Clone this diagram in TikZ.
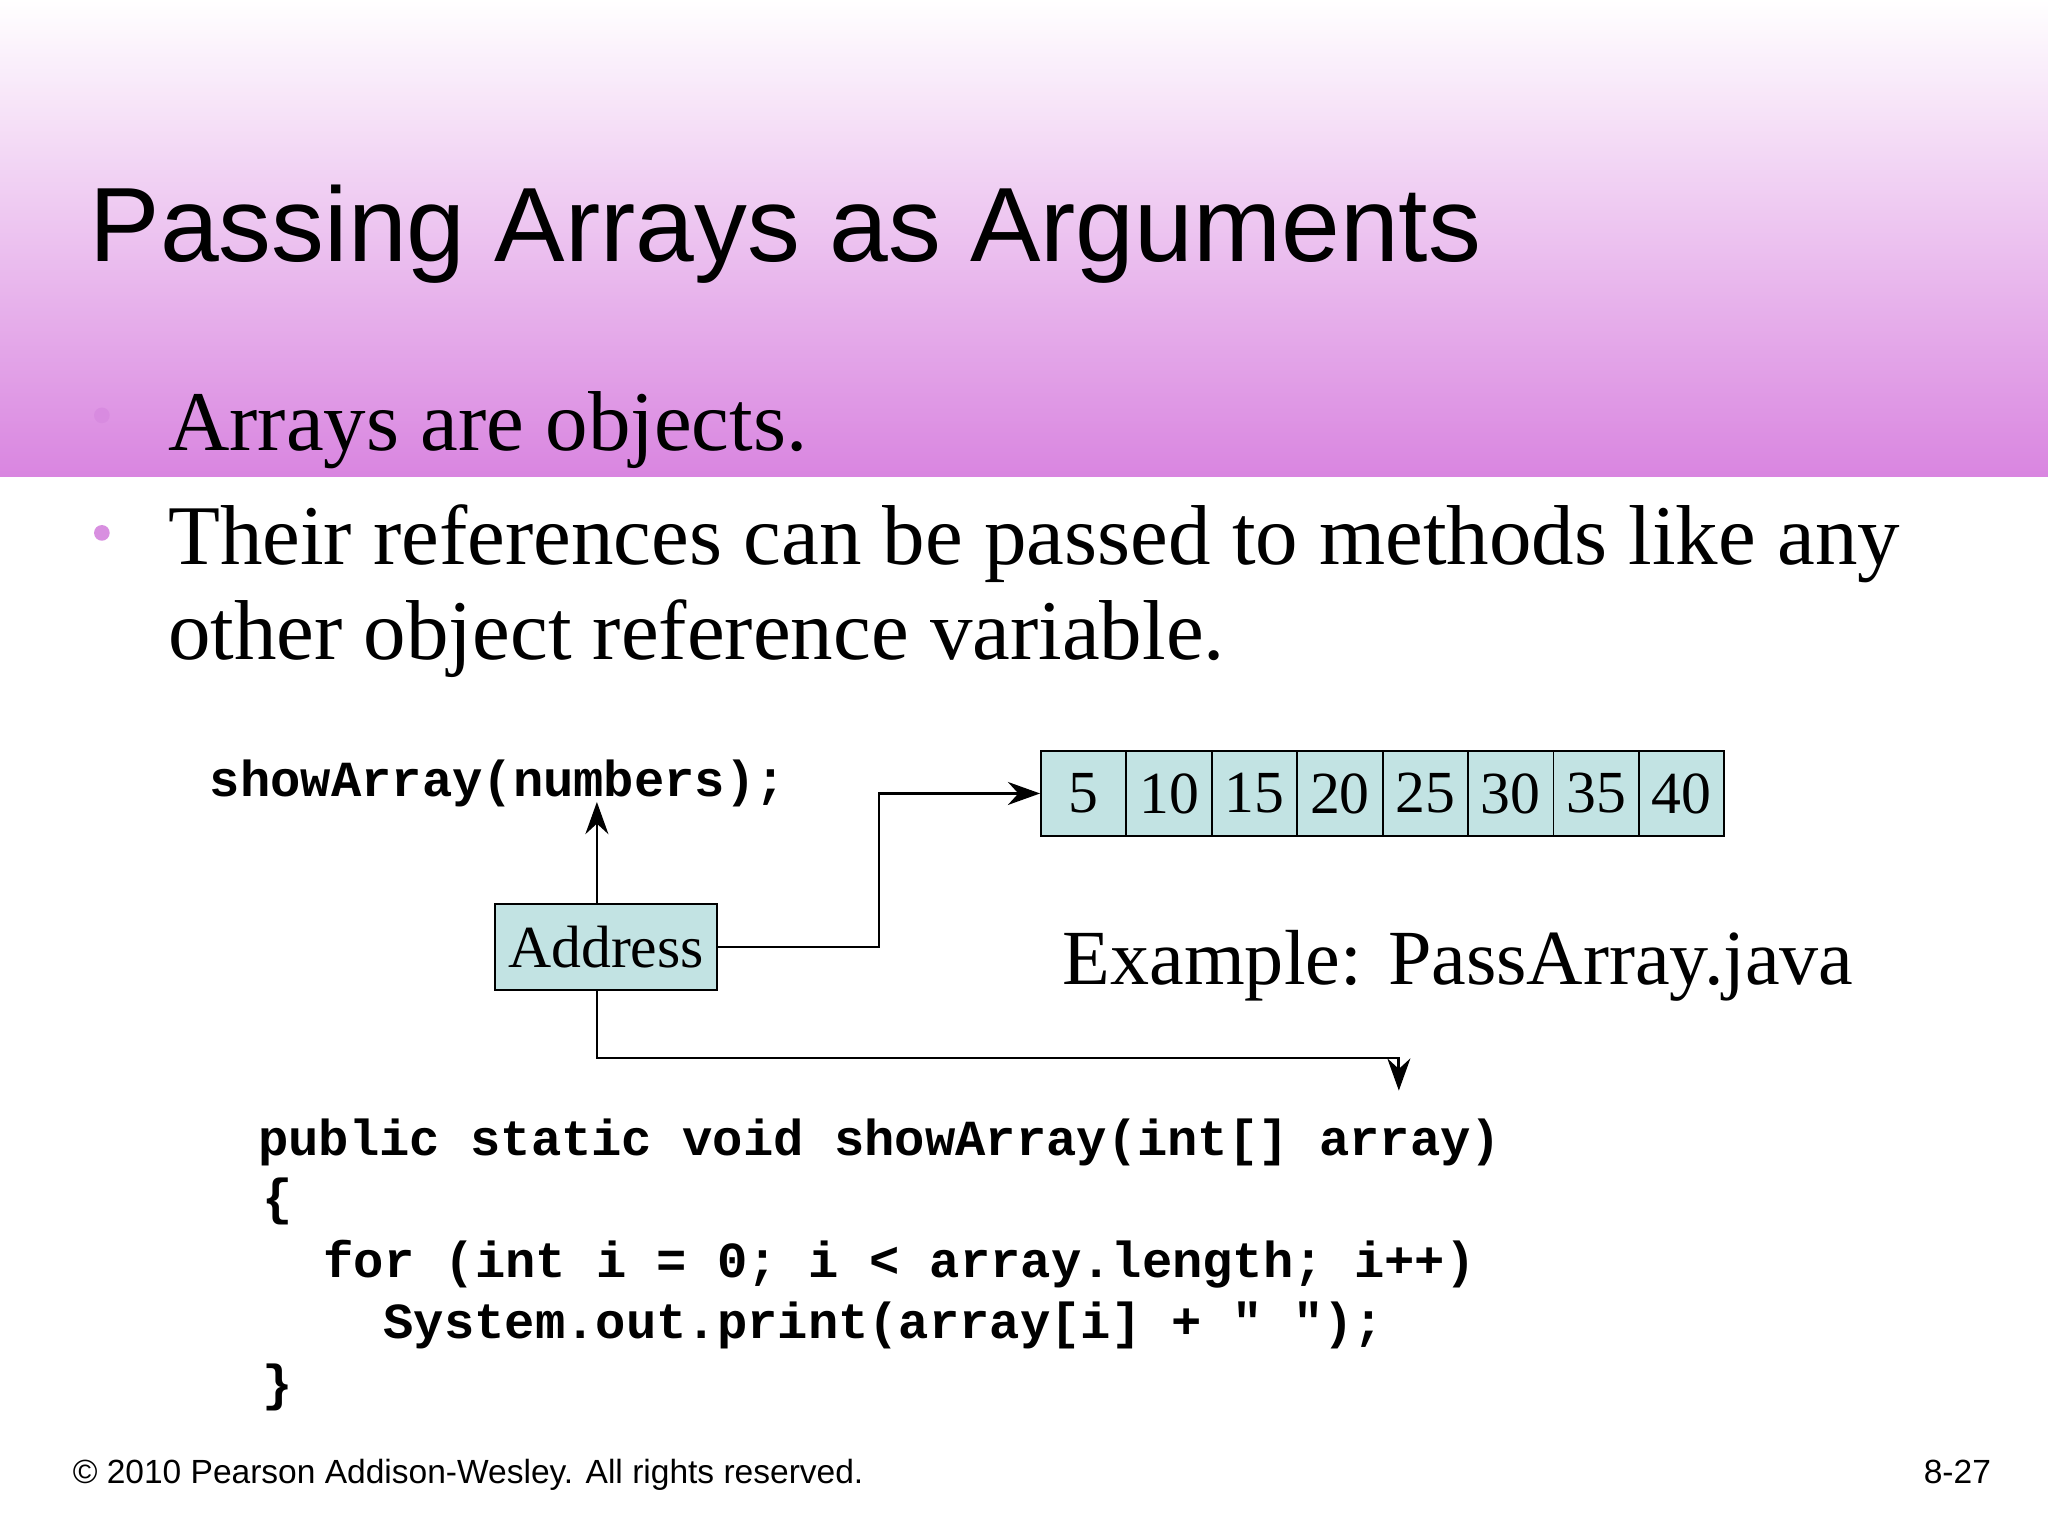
\documentclass[tikz,border=0pt]{standalone}
\usepackage{fontspec}
\setmainfont{Liberation Serif}
\newfontfamily\titlefont{Liberation Sans}
\newfontfamily\codefont{Liberation Mono}
\usetikzlibrary{arrows.meta}
\definecolor{cellc}{HTML}{C2E3E3}
\definecolor{purp}{HTML}{D985E0}
\definecolor{bul}{HTML}{D88FE0}
\begin{document}
\begin{tikzpicture}[x=0.01cm,y=-0.01cm,
  txt/.style={anchor=base west,inner sep=0},
  code/.style={txt,font=\codefont\bfseries\fontsize{11}{13}\selectfont},
  cell/.style={draw,fill=cellc,minimum width=65.4*0.01cm,minimum height=0.65cm,inner sep=0,font=\fontsize{13}{15}\selectfont},
  conn/.style={-{Stealth[length=7pt,width=5pt]},line width=0.6pt}]
\useasboundingbox (0,0) rectangle (1568,1176);
\shade[top color=white,bottom color=purp] (0,0) rectangle (1568,365);
\node[txt,font=\titlefont\fontsize{23}{27}\selectfont] (title) at (68,200) {Passing Arrays as Arguments};
\fill[bul!60!purp] (78,318) circle (6);
\fill[bul] (78,408) circle (6);
\node[txt,font=\fontsize{18.5}{22}\selectfont] (b1) at (128,345) {Arrays are objects.};
\node[txt,font=\fontsize{18.5}{22}\selectfont] (b2) at (128,432) {Their references can be passed to methods like any};
\node[txt,font=\fontsize{18.5}{22}\selectfont] (b3) at (128,505) {other object reference variable.};
\node[code] (call) at (160,610) {showArray(numbers);};
\foreach \v [count=\i] in {5,10,15,20,25,30,35,40}
  \node[cell] (c\i) at ({797+65.4*(\i-0.5)},607.5) {\v};
\node[draw,fill=cellc,minimum width=1.7cm,minimum height=0.66cm,inner sep=0,font=\fontsize{13}{15}\selectfont] (addr) at (464,725) {Address};
\node[txt,font=\fontsize{17}{20}\selectfont] (ex) at (813,754) {Example: PassArray.java};
\coordinate (callpt) at (457,614);
\coordinate (paramtip) at (1071,835);
\draw[conn] (addr.north -| callpt) -- (callpt);
\draw[conn] (addr.east) -- (673,725) |- (c1.west);
\draw[conn] (addr.south -| callpt) -- (457,810) -| (paramtip);
\node[code] (l1) at (197,885) {public static void showArray(int[] array)};
\node[code] (l2) at (200,930) {\{};
\node[code] (l3) at (247,978) {for (int i = 0; i < array.length; i++)};
\node[code] (l4) at (293,1025) {System.out.print(array[i] + " ");};
\node[code] (l5) at (200,1072) {\}};
\node[txt,font=\titlefont\fontsize{7.3}{9}\selectfont] (foot) at (55,1136) {\textcopyright{} 2010 Pearson Addison-Wesley. All rights reserved.};
\node[anchor=base east,inner sep=0,font=\titlefont\fontsize{7.3}{9}\selectfont] (pg) at (1525,1136) {8-27};
\end{tikzpicture}
\end{document}
